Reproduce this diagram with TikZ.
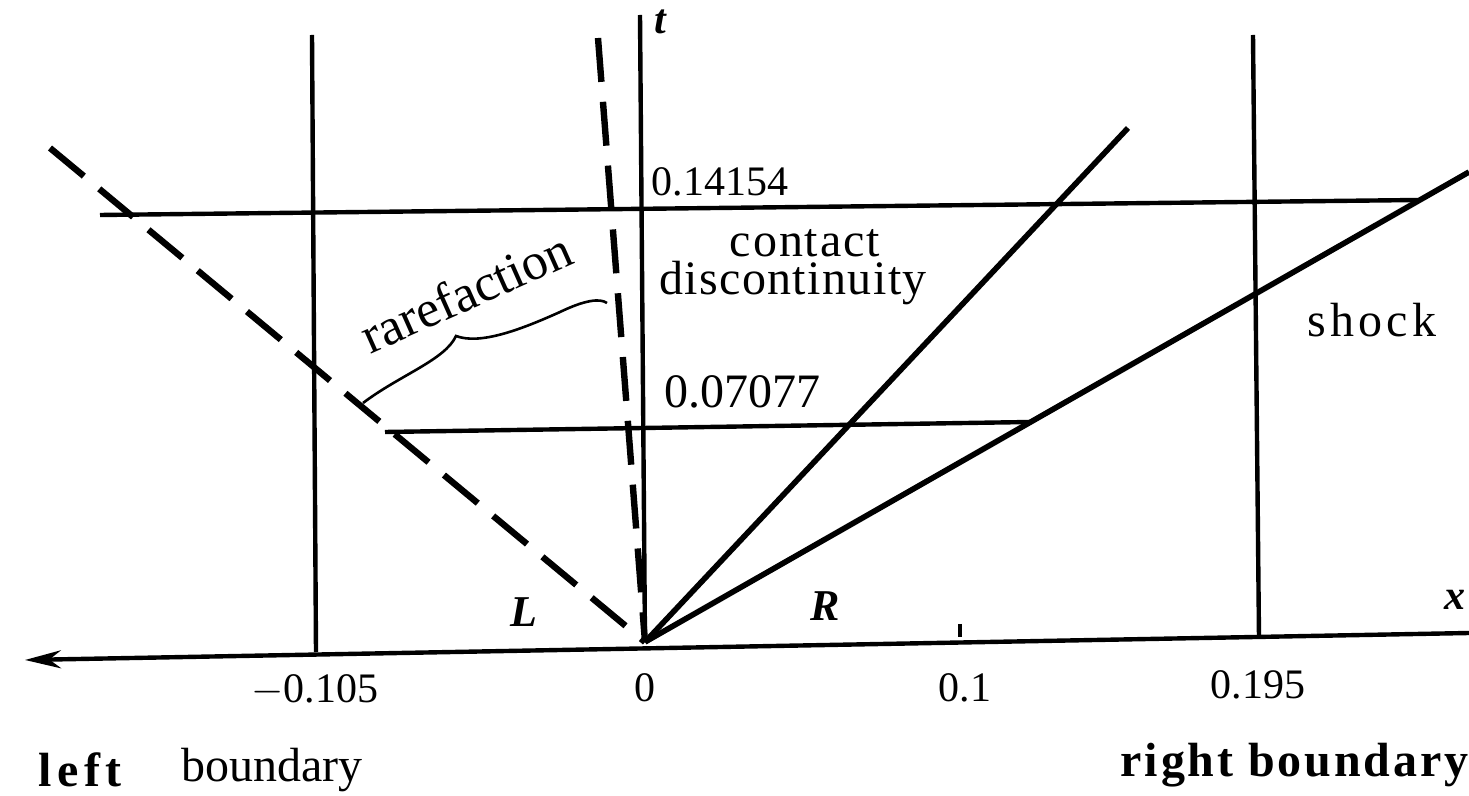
\documentclass[tikz,border=0pt]{standalone}
\usepackage{fontspec}
\setmainfont{Liberation Serif}
\usetikzlibrary{arrows.meta}
\begin{document}
\begin{tikzpicture}[x=0.5pt,y=-0.5pt,
  ln/.style={line width=2.2pt},
  dsh/.style={line width=3.2pt,dash pattern=on 22pt off 10pt},
  lbl/.style={inner sep=0pt,font=\fontsize{21}{25}\selectfont},
  big/.style={inner sep=0pt,font=\fontsize{24}{28}\selectfont},
  blbl/.style={inner sep=0pt,font=\fontsize{24}{28}\selectfont\bfseries}]
\useasboundingbox (0,0) rectangle (1469,796);
% key points
\coordinate (O) at (645,642);
\coordinate (xl) at (25,660);
\coordinate (xr) at (1469,633);
\coordinate (tt) at (640,15);
\coordinate (lbt) at (312,35);
\coordinate (lbb) at (316,652);
\coordinate (rbt) at (1253,35);
\coordinate (rbb) at (1259,638);
\coordinate (h1l) at (100,215);
\coordinate (h1r) at (1418,200);
\coordinate (h2l) at (385,432);
\coordinate (h2r) at (1030,422);
\coordinate (d1) at (50,148);
\coordinate (d2) at (598,38);
\coordinate (cd) at (1128,128);
\coordinate (sh) at (1469,172);
\coordinate (tk1) at (960,624);
\coordinate (tk2) at (960,637);
\coordinate (r1) at (363,403);
\coordinate (r2) at (456,336);
\coordinate (r3) at (607,303);
% axes
\draw[ln,{Stealth[length=18pt,width=9pt]}-] (xl) -- (xr);
\draw[ln] (O) -- (tt);
\draw[ln] (tk1) -- (tk2);
% boundaries
\draw[ln] (lbt) -- (lbb);
\draw[ln] (rbt) -- (rbb);
% time levels
\draw[ln] (h1l) -- (h1r);
\draw[ln] (h2l) -- (h2r);
% rarefaction fan edges
\draw[dsh] (d1) -- (O);
\draw[dsh] (d2) -- (O);
% contact and shock
\draw[line width=2.8pt] (O) -- (cd);
\draw[line width=2.8pt] (O) -- (sh);
% brace
\draw[line width=1.3pt] (r1) .. controls (400,375) and (445,360) .. (r2)
  .. controls (480,345) and (520,330) .. (560,312)
  .. controls (585,300) and (600,298) .. (r3);
% labels
\node[lbl,font=\fontsize{21}{25}\selectfont\itshape\bfseries] (tl) at (660,22) {t};
\node[lbl] (v1) at (720,182) {0.14154};
\node[big] (v2) at (742,392) {0.07077};
\node[big] (cl1) at (805,243) {\addfontfeature{LetterSpace=4}contact};
\node[big] (cl2) at (793,283) {\addfontfeature{LetterSpace=3}discontinuity};
\node[inner sep=0pt,font=\fontsize{26}{30}\selectfont,rotate=24] (rl) at (466,292) {rarefaction};
\node[big] (sl) at (1372,320) {\addfontfeature{LetterSpace=9}shock};
\node[lbl,font=\fontsize{22}{26}\selectfont\itshape\bfseries] (Ll) at (524,612) {L};
\node[lbl,font=\fontsize{22}{26}\selectfont\itshape\bfseries] (Rl) at (825,606) {R};
\node[lbl,font=\fontsize{21}{25}\selectfont\itshape\bfseries] (xlb) at (1455,600) {x};
\node[lbl] (a1) at (315,690) {$-$0.105};
\node[lbl] (a2) at (645,688) {0};
\node[lbl] (a3) at (965,688) {0.1};
\node[lbl] (a4) at (1258,685) {0.195};
\node[blbl] (lft) at (80,770) {\addfontfeature{LetterSpace=12}left};
\node[big] (lbd) at (272,770) {boundary};
\node[blbl,anchor=east] (rbd) at (1469,765) {\addfontfeature{LetterSpace=6}right boundary};
\end{tikzpicture}
\end{document}
